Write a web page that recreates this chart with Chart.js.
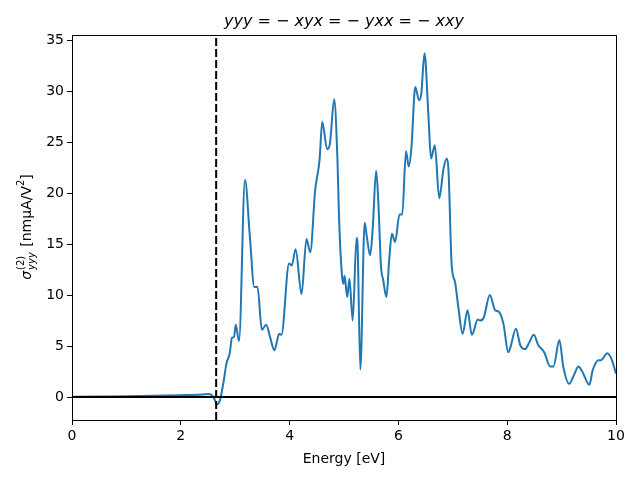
<!DOCTYPE html>
<html>
<head>
<meta charset="utf-8">
<script src="https://cdn.jsdelivr.net/npm/chart.js@4"></script>
<style>
  html, body { margin: 0; padding: 0; background: #fff; }
  #wrap { width: 640px; height: 480px; }
</style>
</head>
<body>
<div id="wrap"><canvas id="chart" width="640" height="480"></canvas></div>
<script>
// energia (eV) e sigma yyy
const energy = [0, 0.5, 1.0, 1.5, 2.0, 2.4, 2.52, 2.6, 2.67, 2.72, 2.78, 2.84, 2.90, 2.94, 2.98, 3.01, 3.07,
  3.18, 3.27, 3.35, 3.41, 3.49, 3.57, 3.64, 3.72, 3.81, 3.85, 3.99, 4.04, 4.11, 4.22, 4.31, 4.38, 4.47, 4.55,
  4.60, 4.69, 4.74, 4.82, 4.88, 4.91, 4.96, 4.99, 5.01, 5.06, 5.10, 5.16, 5.23, 5.25, 5.30, 5.38, 5.42, 5.48,
  5.53, 5.59, 5.63, 5.68, 5.72, 5.78, 5.83, 5.88, 5.94, 6.02, 6.07, 6.14, 6.19, 6.24, 6.31, 6.38, 6.42, 6.48,
  6.55, 6.60, 6.67, 6.75, 6.83, 6.89, 6.92, 6.98, 7.04, 7.10, 7.18, 7.27, 7.35, 7.46, 7.50, 7.57, 7.68, 7.78,
  7.84, 7.93, 8.02, 8.06, 8.16, 8.24, 8.33, 8.40, 8.49, 8.57, 8.68, 8.79, 8.85, 8.96, 9.03, 9.14, 9.23, 9.31,
  9.38, 9.51, 9.57, 9.68, 9.72, 9.84, 9.92, 10.0];
const sigmaYYY = [0.02, 0.05, 0.08, 0.12, 0.18, 0.25, 0.3, 0.0, -0.7, -0.3, 1.3, 3.3, 4.3, 5.8, 5.9, 7.1, 5.5,
  21.3, 15.7, 10.8, 10.8, 6.6, 7.1, 5.9, 4.6, 6.2, 6.1, 13.1, 12.9, 14.5, 10.1, 15.5, 14.2, 20.3, 23.2,
  27.0, 24.3, 24.8, 29.2, 23.2, 17.4, 12.1, 11.1, 11.9, 9.8, 11.6, 7.5, 15.6, 14.8, 2.7, 17.1, 15.7, 13.9,
  16.7, 22.2, 19.3, 12.8, 11.5, 9.8, 13.4, 16.0, 15.2, 17.9, 17.9, 24.1, 22.6, 24.5, 30.4, 29.1, 29.7, 33.7,
  27.8, 23.4, 24.7, 19.5, 22.4, 23.4, 22.3, 12.9, 11.3, 8.9, 6.2, 8.5, 6.1, 7.6, 7.5, 7.8, 10.0, 8.5,
  8.4, 7.2, 4.4, 4.9, 6.7, 5.1, 4.7, 5.3, 6.1, 5.1, 4.4, 3.0, 3.0, 5.6, 3.0, 1.3, 2.2, 3.0,
  2.5, 1.2, 2.6, 3.6, 3.6, 4.3, 3.7, 2.3];

const gapEnergy = [2.65, 2.65];   // linha tracejada (gap)
const gapY = [-2.25, 35.5];
const zeroX = [0, 10];            // linha horizontal em zero
const zeroY = [0, 0];

const xTicks = [0, 2, 4, 6, 8, 10];
const yTicks = [0, 5, 10, 15, 20, 25, 30, 35];

const toPoints = (xs, ys) => xs.map((x, i) => ({ x: x, y: ys[i] }));
const FONT = "'DejaVu Sans', sans-serif";

// Título e rótulo do eixo y (com sub/sobrescritos) e moldura
const decorPlugin = {
  id: 'decor',
  afterDraw(chart) {
    const { ctx, chartArea: a } = chart;
    ctx.save();
    // moldura
    ctx.strokeStyle = '#000';
    ctx.lineWidth = 1;
    ctx.strokeRect(a.left + 0.5, a.top + 0.5, a.right - a.left, a.bottom - a.top);

    // título
    const parts = [
      ['yyy', 'italic'], [' = \u2212 ', 'normal'], ['xyx', 'italic'], [' = \u2212 ', 'normal'],
      ['yxx', 'italic'], [' = \u2212 ', 'normal'], ['xxy', 'italic']
    ];
    ctx.fillStyle = '#000';
    ctx.textBaseline = 'alphabetic';
    let total = 0;
    parts.forEach(p => { ctx.font = p[1] + ' 16px ' + FONT; total += ctx.measureText(p[0]).width; });
    let tx = (a.left + a.right) / 2 - total / 2;
    parts.forEach(p => {
      ctx.font = p[1] + ' 16px ' + FONT;
      ctx.fillText(p[0], tx, 26);
      tx += ctx.measureText(p[0]).width;
    });

    // rótulo do eixo y
    ctx.translate(31, (a.top + a.bottom) / 2);
    ctx.rotate(-Math.PI / 2);
    ctx.font = 'italic 14px ' + FONT;
    const wSig = ctx.measureText('\u03c3').width;
    ctx.font = '10px ' + FONT;
    const wSup = ctx.measureText('(2)').width;
    ctx.font = 'italic 10px ' + FONT;
    const wSub = ctx.measureText('yyy').width;
    const wScript = Math.max(wSup, wSub) + 1;
    ctx.font = '14px ' + FONT;
    const rest1 = ' [nm\u03bcA/V';
    const wR1 = ctx.measureText(rest1).width;
    ctx.font = '10px ' + FONT;
    const wTwo = ctx.measureText('2').width;
    ctx.font = '14px ' + FONT;
    const wBr = ctx.measureText(']').width;
    const full = wSig + wScript + wR1 + wTwo + wBr;
    let x = -full / 2;
    ctx.font = 'italic 14px ' + FONT;
    ctx.fillText('\u03c3', x, 0); x += wSig + 1;
    ctx.font = '10px ' + FONT;
    ctx.fillText('(2)', x, -7);
    ctx.font = 'italic 10px ' + FONT;
    ctx.fillText('yyy', x, 4);
    x += wScript;
    ctx.font = '14px ' + FONT;
    ctx.fillText(rest1, x, 0); x += wR1;
    ctx.font = '10px ' + FONT;
    ctx.fillText('2', x, -7); x += wTwo;
    ctx.font = '14px ' + FONT;
    ctx.fillText(']', x, 0);
    ctx.restore();
  }
};

new Chart(document.getElementById('chart'), {
  type: 'line',
  data: {
    datasets: [
      {
        data: toPoints(energy, sigmaYYY),
        borderColor: '#1f77b4',
        borderWidth: 2,
        pointRadius: 0,
        cubicInterpolationMode: 'monotone',
        order: 3
      },
      {
        data: toPoints(zeroX, zeroY),
        borderColor: '#000',
        borderWidth: 2,
        pointRadius: 0,
        order: 2
      },
      {
        data: toPoints(gapEnergy, gapY),
        borderColor: '#000',
        borderWidth: 2,
        borderDash: [8, 3],
        pointRadius: 0,
        order: 1
      }
    ]
  },
  options: {
    responsive: false,
    animation: false,
    layout: { padding: { left: 0, right: 24, top: 35, bottom: 12 } },
    plugins: { legend: { display: false }, tooltip: { enabled: false }, title: { display: false } },
    scales: {
      x: {
        type: 'linear',
        min: 0,
        max: 10,
        afterBuildTicks: s => { s.ticks = xTicks.map(v => ({ value: v })); },
        afterFit: s => { s.height = 48; },
        grid: { drawOnChartArea: false, drawTicks: true, tickLength: 5, color: '#000' },
        border: { display: true, color: '#000', width: 1 },
        ticks: { color: '#000', font: { family: FONT, size: 14 }, padding: 3, maxRotation: 0 },
        title: { display: true, text: 'Energy [eV]', color: '#000', font: { family: FONT, size: 14 }, padding: { top: 2, bottom: 0 } }
      },
      y: {
        type: 'linear',
        min: -2.25,
        max: 35.5,
        afterBuildTicks: s => { s.ticks = yTicks.map(v => ({ value: v })); },
        afterFit: s => { s.width = 72; },
        grid: { drawOnChartArea: false, drawTicks: true, tickLength: 5, color: '#000' },
        border: { display: true, color: '#000', width: 1 },
        ticks: { color: '#000', font: { family: FONT, size: 14 }, padding: 3 }
      }
    }
  },
  plugins: [decorPlugin]
});
</script>
</body>
</html>
